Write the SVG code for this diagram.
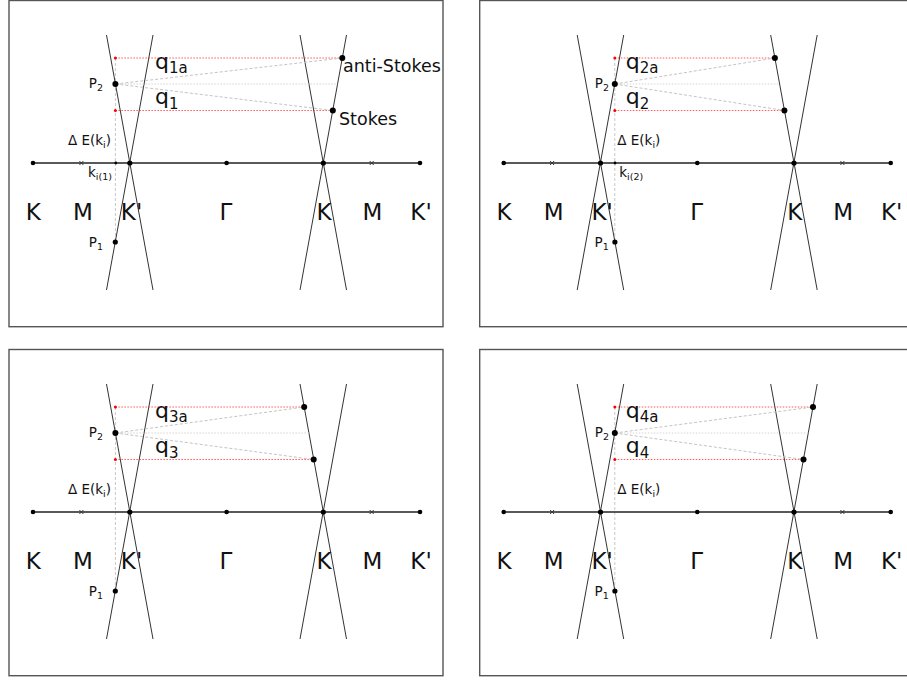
<svg xmlns="http://www.w3.org/2000/svg" width="907" height="680" viewBox="0 0 907 680">
<style>
.frame{fill:none;stroke:#555;stroke-width:1.4}
.axis{stroke:#222;stroke-width:1.3}
.band{stroke:#333;stroke-width:1}
.red{stroke:#f22;stroke-width:1;stroke-dasharray:1.5 1.5;opacity:.75}
.gray{stroke:#c4c4c4;stroke-width:1;stroke-dasharray:3 2}
.hgray{stroke:#d4d4d4;stroke-width:1;stroke-dasharray:1.5 1.5}
.vd{stroke:#c8c8c8;stroke-width:1;stroke-dasharray:3 2}
.cross{stroke:#333;stroke-width:1}
.dot{fill:#000}
.rdot{fill:#f00}
text{font-family:"DejaVu Sans","Liberation Sans",sans-serif;fill:#111}
.big{font-size:23px;text-anchor:middle}
.q{font-size:22px}
.sm{font-size:13.5px}
.st{font-size:17.5px}
</style>

<!-- ===== Panel 1 ===== -->
<g id="panel1">
  <rect class="frame" x="9" y="0.5" width="434" height="326.2"/>
  <g id="p1-connectors">
    <line class="vd" x1="115.4" y1="58" x2="115.4" y2="242"/>
    <line class="axis" x1="33" y1="163" x2="420" y2="163"/>
    <line class="band" x1="106.5" y1="35" x2="153" y2="290"/>
    <line class="band" x1="153" y1="35" x2="106.5" y2="290"/>
    <line class="band" x1="300" y1="35" x2="346.5" y2="290"/>
    <line class="band" x1="346.5" y1="35" x2="300" y2="290"/>
    <line class="red" x1="115.4" y1="58" x2="342.3" y2="58"/>
    <line class="red" x1="115.4" y1="110.5" x2="332.8" y2="110.5"/>
    <line class="gray" x1="115.4" y1="84" x2="342.3" y2="58"/>
    <line class="gray" x1="115.4" y1="84" x2="332.8" y2="110.5"/>
    <line class="hgray" x1="115.4" y1="84" x2="337.6" y2="84"/>
  </g>
  <g id="p1-axis-points">
    <circle class="dot" cx="33" cy="163" r="2.3"/>
    <path class="cross" d="M79.4 161l4 4M83.4 161l-4 4"/>
    <circle class="dot" cx="129.8" cy="163" r="2.6"/>
    <circle class="dot" cx="226.6" cy="163" r="2.3"/>
    <circle class="dot" cx="323.3" cy="163" r="2.6"/>
    <path class="cross" d="M369.7 161l4 4M373.7 161l-4 4"/>
    <circle class="dot" cx="420" cy="163" r="2.3"/>
    <circle class="dot" cx="115.8" cy="163" r="1.4"/>
  </g>
  <g id="p1-labels">
    <text class="big" x="33.3" y="220">K</text>
    <text class="big" x="83" y="220">M</text>
    <text class="big" x="131.5" y="220">K'</text>
    <text class="big" x="226" y="220">Γ</text>
    <text class="big" x="324" y="220">K</text>
    <text class="big" x="372.5" y="220">M</text>
    <text class="big" x="421" y="220">K'</text>
  </g>
  <g id="p1-P2"><circle class="dot" cx="115.4" cy="84" r="3"/><text class="sm" x="103" y="88" text-anchor="end">P<tspan font-size="9.5" dy="3">2</tspan></text></g>
  <g id="p1-P1"><circle class="dot" cx="115.3" cy="242" r="2.6"/><text class="sm" x="103" y="246.5" text-anchor="end">P<tspan font-size="9.5" dy="3">1</tspan></text></g>
  <g id="p1-antistokes"><circle class="dot" cx="342.3" cy="58" r="3"/><text class="st" x="343" y="72">anti-Stokes</text></g>
  <g id="p1-stokes"><circle class="dot" cx="332.8" cy="110.5" r="3"/><text class="st" x="339" y="125">Stokes</text></g>
  <g id="p1-marks">
    <circle class="rdot" cx="115.4" cy="58" r="1.5"/>
    <circle class="rdot" cx="115.4" cy="110.5" r="1.5"/>
    <text class="q" x="155" y="68.5">q<tspan font-size="15" dy="4.5">1a</tspan></text>
    <text class="q" x="155" y="104">q<tspan font-size="15" dy="4.5">1</tspan></text>
    <text class="sm" x="111" y="144.5" text-anchor="end">Δ E(k<tspan font-size="9.5" dy="3">i</tspan><tspan dy="-3">)</tspan></text>
    <text class="sm" x="88" y="176.7">k<tspan font-size="9.5" dy="3">i(1)</tspan></text>
  </g>
</g>

<!-- ===== Panel 2 ===== -->
<g id="panel2" transform="translate(470.7,0)">
  <rect class="frame" x="9" y="0.5" width="434" height="326.2"/>
  <g id="p2-connectors">
    <line class="vd" x1="144.1" y1="58" x2="144.1" y2="242"/>
    <line class="axis" x1="33" y1="163" x2="420" y2="163"/>
    <line class="band" x1="106.5" y1="35" x2="153" y2="290"/>
    <line class="band" x1="153" y1="35" x2="106.5" y2="290"/>
    <line class="band" x1="300" y1="35" x2="346.5" y2="290"/>
    <line class="band" x1="346.5" y1="35" x2="300" y2="290"/>
    <line class="red" x1="144.1" y1="58" x2="304.2" y2="58"/>
    <line class="red" x1="144.1" y1="110.5" x2="313.7" y2="110.5"/>
    <line class="gray" x1="144.1" y1="84" x2="304.2" y2="58"/>
    <line class="gray" x1="144.1" y1="84" x2="313.7" y2="110.5"/>
    <line class="hgray" x1="144.1" y1="84" x2="308.9" y2="84"/>
  </g>
  <g id="p2-axis-points">
    <circle class="dot" cx="33" cy="163" r="2.3"/>
    <path class="cross" d="M79.4 161l4 4M83.4 161l-4 4"/>
    <circle class="dot" cx="129.8" cy="163" r="2.6"/>
    <circle class="dot" cx="226.6" cy="163" r="2.3"/>
    <circle class="dot" cx="323.3" cy="163" r="2.6"/>
    <path class="cross" d="M369.7 161l4 4M373.7 161l-4 4"/>
    <circle class="dot" cx="420" cy="163" r="2.3"/>
    <circle class="dot" cx="144.3" cy="163" r="1.4"/>
  </g>
  <g id="p2-labels">
    <text class="big" x="33.3" y="220">K</text>
    <text class="big" x="83" y="220">M</text>
    <text class="big" x="131.5" y="220">K'</text>
    <text class="big" x="226" y="220">Γ</text>
    <text class="big" x="324" y="220">K</text>
    <text class="big" x="372.5" y="220">M</text>
    <text class="big" x="421" y="220">K'</text>
  </g>
  <g id="p2-P2"><circle class="dot" cx="144.1" cy="84" r="3"/><text class="sm" x="138.3" y="88" text-anchor="end">P<tspan font-size="9.5" dy="3">2</tspan></text></g>
  <g id="p2-P1"><circle class="dot" cx="144.2" cy="242" r="2.6"/><text class="sm" x="138" y="246.5" text-anchor="end">P<tspan font-size="9.5" dy="3">1</tspan></text></g>
  <g id="p2-aS"><circle class="dot" cx="304.2" cy="58" r="3"/></g>
  <g id="p2-S"><circle class="dot" cx="313.7" cy="110.5" r="3"/></g>
  <g id="p2-marks">
    <circle class="rdot" cx="144.1" cy="58" r="1.5"/>
    <circle class="rdot" cx="144.1" cy="110.5" r="1.5"/>
    <text class="q" x="155" y="68.5">q<tspan font-size="15" dy="4.5">2a</tspan></text>
    <text class="q" x="155" y="104">q<tspan font-size="15" dy="4.5">2</tspan></text>
    <text class="sm" x="146.6" y="144.5">Δ E(k<tspan font-size="9.5" dy="3">i</tspan><tspan dy="-3">)</tspan></text>
    <text class="sm" x="148.6" y="176.7">k<tspan font-size="9.5" dy="3">i(2)</tspan></text>
  </g>
</g>

<!-- ===== Panel 3 ===== -->
<g id="panel3" transform="translate(0,349)">
  <rect class="frame" x="9" y="0.5" width="434" height="326.2"/>
  <g id="p3-connectors">
    <line class="vd" x1="115.4" y1="58" x2="115.4" y2="242"/>
    <line class="axis" x1="33" y1="163" x2="420" y2="163"/>
    <line class="band" x1="106.5" y1="35" x2="153" y2="290"/>
    <line class="band" x1="153" y1="35" x2="106.5" y2="290"/>
    <line class="band" x1="300" y1="35" x2="346.5" y2="290"/>
    <line class="band" x1="346.5" y1="35" x2="300" y2="290"/>
    <line class="red" x1="115.4" y1="58" x2="304.2" y2="58"/>
    <line class="red" x1="115.4" y1="110.5" x2="313.7" y2="110.5"/>
    <line class="gray" x1="115.4" y1="84" x2="304.2" y2="58"/>
    <line class="gray" x1="115.4" y1="84" x2="313.7" y2="110.5"/>
    <line class="hgray" x1="115.4" y1="84" x2="308.9" y2="84"/>
  </g>
  <g id="p3-axis-points">
    <circle class="dot" cx="33" cy="163" r="2.3"/>
    <path class="cross" d="M79.4 161l4 4M83.4 161l-4 4"/>
    <circle class="dot" cx="129.8" cy="163" r="2.6"/>
    <circle class="dot" cx="226.6" cy="163" r="2.3"/>
    <circle class="dot" cx="323.3" cy="163" r="2.6"/>
    <path class="cross" d="M369.7 161l4 4M373.7 161l-4 4"/>
    <circle class="dot" cx="420" cy="163" r="2.3"/>
  </g>
  <g id="p3-labels">
    <text class="big" x="33.3" y="220">K</text>
    <text class="big" x="83" y="220">M</text>
    <text class="big" x="131.5" y="220">K'</text>
    <text class="big" x="226" y="220">Γ</text>
    <text class="big" x="324" y="220">K</text>
    <text class="big" x="372.5" y="220">M</text>
    <text class="big" x="421" y="220">K'</text>
  </g>
  <g id="p3-P2"><circle class="dot" cx="115.4" cy="84" r="3"/><text class="sm" x="103" y="88" text-anchor="end">P<tspan font-size="9.5" dy="3">2</tspan></text></g>
  <g id="p3-P1"><circle class="dot" cx="115.3" cy="242" r="2.6"/><text class="sm" x="103" y="246.5" text-anchor="end">P<tspan font-size="9.5" dy="3">1</tspan></text></g>
  <g id="p3-aS"><circle class="dot" cx="304.2" cy="58" r="3"/></g>
  <g id="p3-S"><circle class="dot" cx="313.7" cy="110.5" r="3"/></g>
  <g id="p3-marks">
    <circle class="rdot" cx="115.4" cy="58" r="1.5"/>
    <circle class="rdot" cx="115.4" cy="110.5" r="1.5"/>
    <text class="q" x="155" y="68.5">q<tspan font-size="15" dy="4.5">3a</tspan></text>
    <text class="q" x="155" y="104">q<tspan font-size="15" dy="4.5">3</tspan></text>
    <text class="sm" x="111" y="144.5" text-anchor="end">Δ E(k<tspan font-size="9.5" dy="3">i</tspan><tspan dy="-3">)</tspan></text>
  </g>
</g>

<!-- ===== Panel 4 ===== -->
<g id="panel4" transform="translate(470.7,349)">
  <rect class="frame" x="9" y="0.5" width="434" height="326.2"/>
  <g id="p4-connectors">
    <line class="vd" x1="144.1" y1="58" x2="144.1" y2="242"/>
    <line class="axis" x1="33" y1="163" x2="420" y2="163"/>
    <line class="band" x1="106.5" y1="35" x2="153" y2="290"/>
    <line class="band" x1="153" y1="35" x2="106.5" y2="290"/>
    <line class="band" x1="300" y1="35" x2="346.5" y2="290"/>
    <line class="band" x1="346.5" y1="35" x2="300" y2="290"/>
    <line class="red" x1="144.1" y1="58" x2="342.3" y2="58"/>
    <line class="red" x1="144.1" y1="110.5" x2="332.8" y2="110.5"/>
    <line class="gray" x1="144.1" y1="84" x2="342.3" y2="58"/>
    <line class="gray" x1="144.1" y1="84" x2="332.8" y2="110.5"/>
    <line class="hgray" x1="144.1" y1="84" x2="337.6" y2="84"/>
  </g>
  <g id="p4-axis-points">
    <circle class="dot" cx="33" cy="163" r="2.3"/>
    <path class="cross" d="M79.4 161l4 4M83.4 161l-4 4"/>
    <circle class="dot" cx="129.8" cy="163" r="2.6"/>
    <circle class="dot" cx="226.6" cy="163" r="2.3"/>
    <circle class="dot" cx="323.3" cy="163" r="2.6"/>
    <path class="cross" d="M369.7 161l4 4M373.7 161l-4 4"/>
    <circle class="dot" cx="420" cy="163" r="2.3"/>
  </g>
  <g id="p4-labels">
    <text class="big" x="33.3" y="220">K</text>
    <text class="big" x="83" y="220">M</text>
    <text class="big" x="131.5" y="220">K'</text>
    <text class="big" x="226" y="220">Γ</text>
    <text class="big" x="324" y="220">K</text>
    <text class="big" x="372.5" y="220">M</text>
    <text class="big" x="421" y="220">K'</text>
  </g>
  <g id="p4-P2"><circle class="dot" cx="144.1" cy="84" r="3"/><text class="sm" x="138.3" y="88" text-anchor="end">P<tspan font-size="9.5" dy="3">2</tspan></text></g>
  <g id="p4-P1"><circle class="dot" cx="144.2" cy="242" r="2.6"/><text class="sm" x="138" y="246.5" text-anchor="end">P<tspan font-size="9.5" dy="3">1</tspan></text></g>
  <g id="p4-aS"><circle class="dot" cx="342.3" cy="58" r="3"/></g>
  <g id="p4-S"><circle class="dot" cx="332.8" cy="110.5" r="3"/></g>
  <g id="p4-marks">
    <circle class="rdot" cx="144.1" cy="58" r="1.5"/>
    <circle class="rdot" cx="144.1" cy="110.5" r="1.5"/>
    <text class="q" x="155" y="68.5">q<tspan font-size="15" dy="4.5">4a</tspan></text>
    <text class="q" x="155" y="104">q<tspan font-size="15" dy="4.5">4</tspan></text>
    <text class="sm" x="146.6" y="144.5">Δ E(k<tspan font-size="9.5" dy="3">i</tspan><tspan dy="-3">)</tspan></text>
  </g>
</g>
</svg>
